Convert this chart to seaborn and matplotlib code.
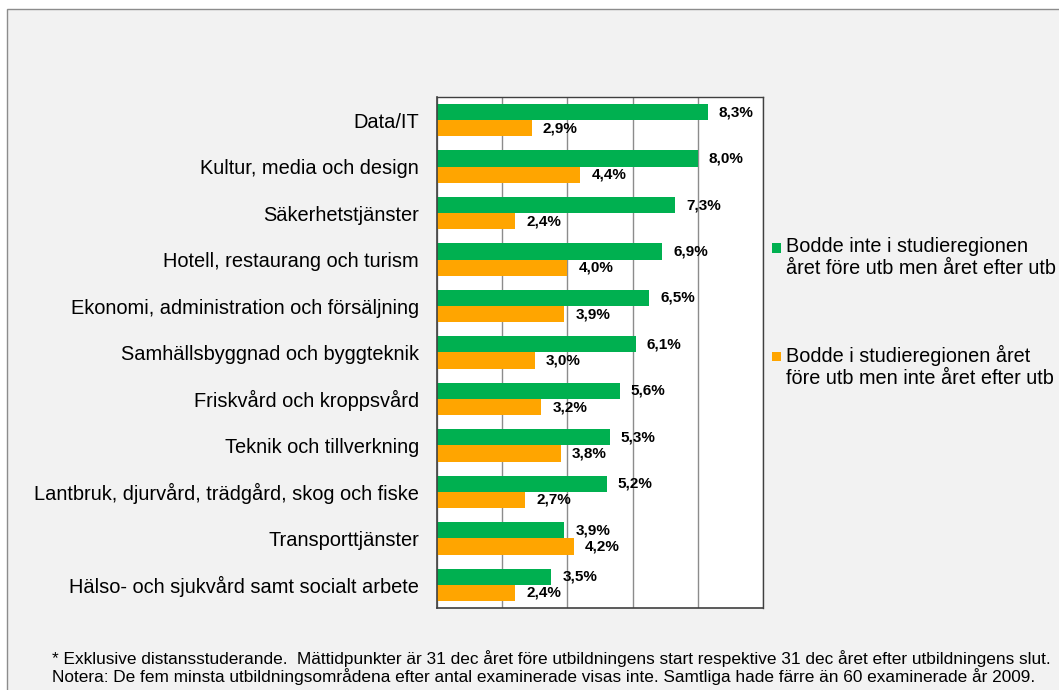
import numpy as np
import pandas as pd
import matplotlib
matplotlib.use("Agg")
import matplotlib.pyplot as plt
from matplotlib.patches import Rectangle
import seaborn as sns

categories = [
    "Data/IT",
    "Kultur, media och design",
    "Säkerhetstjänster",
    "Hotell, restaurang och turism",
    "Ekonomi, administration och försäljning",
    "Samhällsbyggnad och byggteknik",
    "Friskvård och kroppsvård",
    "Teknik och tillverkning",
    "Lantbruk, djurvård, trädgård, skog och fiske",
    "Transporttjänster",
    "Hälso- och sjukvård samt socialt arbete",
]
moved_in = [8.3, 8.0, 7.3, 6.9, 6.5, 6.1, 5.6, 5.3, 5.2, 3.9, 3.5]
moved_out = [2.9, 4.4, 2.4, 4.0, 3.9, 3.0, 3.2, 3.8, 2.7, 4.2, 2.4]
series_names = [
    "Bodde inte i studieregionen\nåret före utb men året efter utb",
    "Bodde i studieregionen året\nföre utb men inte året efter utb",
]
colors = ["#00B050", "#FFA500"]
footnote = (
    "* Exklusive distansstuderande.  Mättidpunkter är 31 dec året före utbildningens start "
    "respektive 31 dec året efter utbildningens slut.\n"
    "Notera: De fem minsta utbildningsområdena efter antal examinerade visas inte. "
    "Samtliga hade färre än 60 examinerade år 2009."
)

df = pd.DataFrame({
    "kategori": categories * 2,
    "andel": moved_in + moved_out,
    "serie": [series_names[0]] * len(categories) + [series_names[1]] * len(categories),
})

sns.set_style("white")
plt.rcParams["font.family"] = ["Liberation Sans", "DejaVu Sans"]

fig = plt.figure(figsize=(10.59, 6.9), dpi=100)
fig.patch.set_facecolor("white")
# grey chart panel with border
fig.add_artist(Rectangle((7 / 1059, -0.01), 1.1, 1 - 9 / 690 + 0.01, transform=fig.transFigure,
                         facecolor="#F2F2F2", edgecolor="#8C8C8C", linewidth=1, zorder=-10))

ax = fig.add_axes([437 / 1059, 1 - 608 / 690, (763 - 437) / 1059, (608 - 97) / 690])
sns.barplot(data=df, y="kategori", x="andel", hue="serie", orient="h",
            palette=colors, saturation=1, width=0.7, linewidth=0, legend=False, ax=ax)

ax.set_xlim(0, 10)
ax.set_xticks(np.arange(0, 11, 2))
ax.set_xticklabels([])
ax.tick_params(axis="x", length=0)
ax.grid(axis="x", color="#8C8C8C", linewidth=1)
ax.set_axisbelow(True)
ax.set_facecolor("white")
ax.set_xlabel("")
ax.set_ylabel("")

ax.tick_params(axis="y", which="major", length=0, pad=13, labelsize=14.4, labelcolor="black")
ax.set_yticks(np.arange(-0.5, len(categories), 1), minor=True)
ax.tick_params(axis="y", which="minor", length=4, direction="out", color="#8C8C8C", width=1)

for side in ["left", "bottom"]:
    ax.spines[side].set_color("#404040")
    ax.spines[side].set_linewidth(1.2)
for side in ["top", "right"]:
    ax.spines[side].set_color("#404040")
    ax.spines[side].set_linewidth(1)

for cont, vals in zip(ax.containers, [moved_in, moved_out]):
    labels = [f"{v:.1f}%".replace(".", ",") for v in vals]
    ax.bar_label(cont, labels=labels, padding=8, fontsize=11, fontweight="bold", color="black")

# legend drawn as squares + text so the marker sits on the first line
legend_y = [1 - 248 / 690, 1 - 356 / 690]
for name, col, y in zip(series_names, colors, legend_y):
    fig.add_artist(Rectangle((772 / 1059, y - 4.5 / 690), 9 / 1059, 9 / 690,
                             transform=fig.transFigure, facecolor=col, edgecolor="none"))
    fig.text(786 / 1059, y + 11 / 690, name, fontsize=14.3, va="top", ha="left",
             linespacing=1.2, color="black")

fig.text(52 / 1059, 1 - 650 / 690, footnote, fontsize=12.4, va="top", ha="left",
         linespacing=1.05, color="black")

fig.savefig("out.png", dpi=100, facecolor=fig.get_facecolor())
